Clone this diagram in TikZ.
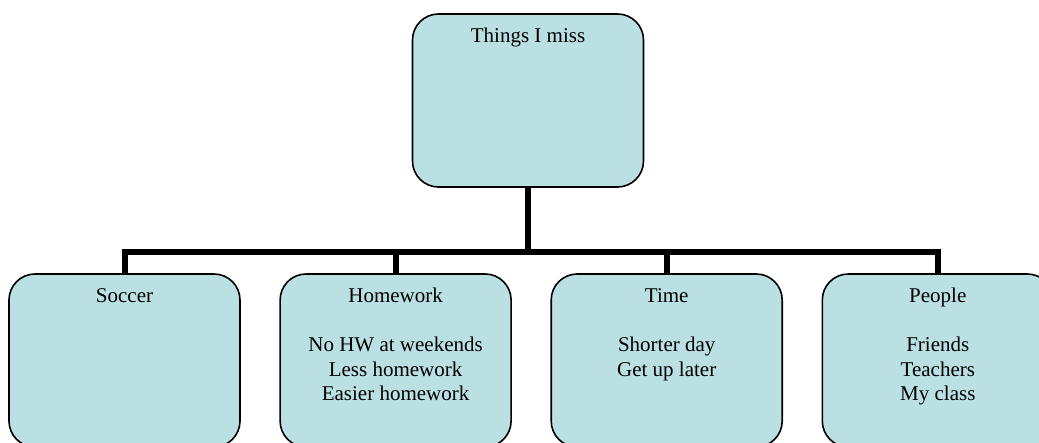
\documentclass[tikz,border=0pt]{standalone}
\usepackage{fontspec}
\setmainfont{Liberation Serif}
\usepackage{tikz}
\usetikzlibrary{positioning, calc}
\definecolor{boxblue}{RGB}{187,224,227}

\begin{document}
\begin{tikzpicture}
[topicG/.style={shape=rectangle, rounded corners=26pt, draw, line width=1.6pt, fill=boxblue,
   minimum width=231pt, minimum height=173pt, inner sep=0pt},
   topicT/.style={anchor=north, align=center, yshift=-12pt, inner sep=0pt,
   font=\fontsize{21}{24.5}\selectfont},
   link/.style={line width=6pt},
   x=1pt, y=-1pt]
\useasboundingbox (0,0) rectangle (1039,443);
\node[topicG] (TM) at (528, 100.5) {};
\node[topicT] (TMt) at (TM.north) {\strut Things I miss};
\node[topicG] (SC) at (124.5, 360.5) {};
\node[topicG] (HW) [right=38.5 of SC] {};
\node[topicG] (TI) [right=38.5 of HW] {};
\node[topicG] (PE) [right=38.5 of TI] {};
\node[topicT] (SCt) at (SC.north) {\strut Soccer};
\node[topicT] (HWt) at (HW.north) {\strut Homework\\[24.5pt] No HW at weekends\\ Less homework\\ Easier homework};
\node[topicT] (TIt) at (TI.north) {\strut Time\\[24.5pt] Shorter day\\ Get up later};
\node[topicT] (PEt) at (PE.north) {\strut People\\[24.5pt] Friends\\ Teachers\\ My class};
\coordinate (hub) at (528, 252);
\draw [link] (TM.south) -- (hub);
\draw [link] (SC.north) |- (hub) -| (PE.north);
\draw [link] (HW.north) -- (HW.north |- hub);
\draw [link] (TI.north) -- (TI.north |- hub);
\end{tikzpicture}
\end{document}
